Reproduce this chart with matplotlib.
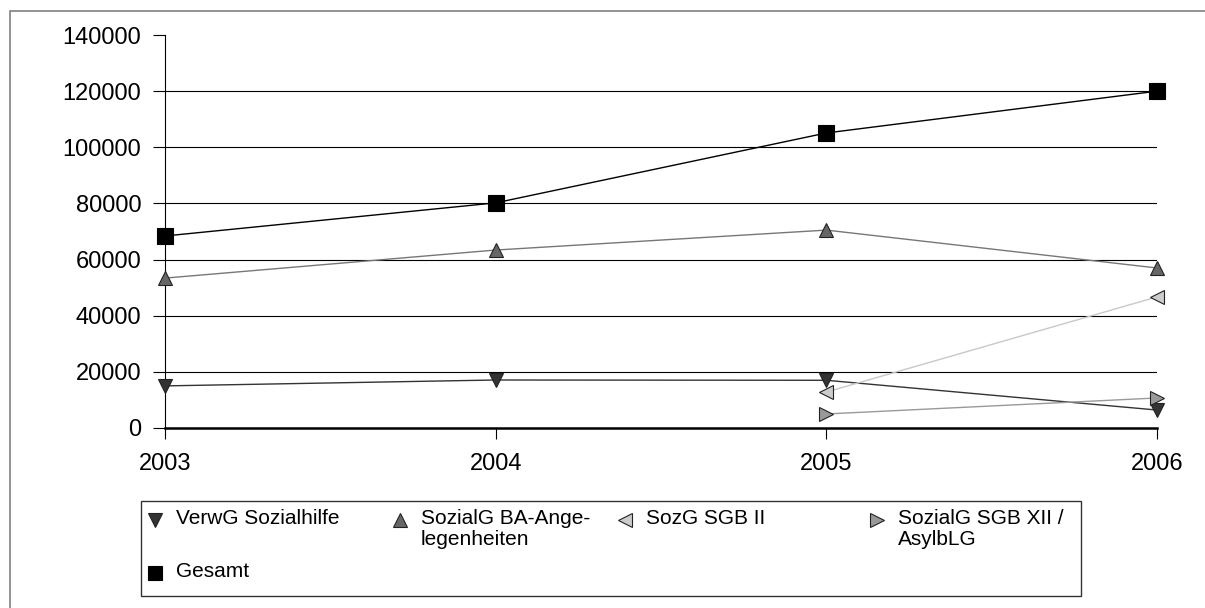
import numpy as np
import matplotlib.pyplot as plt
from matplotlib.patches import Rectangle
from matplotlib.lines import Line2D

plt.rcParams['font.family'] = ['Liberation Sans', 'DejaVu Sans']

jahre = [2003, 2004, 2005, 2006]
verwg = [15000, 17100, 17000, 6400]
ba = [53400, 63400, 70500, 57000]
sgb2_jahre = [2005, 2006]
sgb2 = [12800, 46700]
sgb12_jahre = [2005, 2006]
sgb12 = [5000, 10700]
gesamt = [68400, 80200, 105100, 120000]

W, H = 1205, 608
fig = plt.figure(figsize=(W / 100, H / 100), dpi=100)
ax = fig.add_axes([165 / W, 1 - 428 / H, 992 / W, 393 / H])


def fx(px):
    return px / W


def fy(py):
    return 1 - py / H


# Rahmen um die Grafik (rechts und unten angeschnitten)
fig.patches.append(Rectangle((fx(10), fy(620)), fx(1220) - fx(10), fy(11) - fy(620),
                             transform=fig.transFigure, fill=False,
                             edgecolor="#808080", lw=1.2))

# (Linienfarbe, Markerfarbe, Marker)
stil = {
    "verwg": ("#333333", "#333333", "v"),
    "ba": ("#777777", "#666666", "^"),
    "sgb2": ("#c8c8c8", "#cccccc", "<"),
    "sgb12": ("#999999", "#999999", ">"),
    "gesamt": ("black", "black", "s"),
}

ms = 10.5
for key, x, y in [("verwg", jahre, verwg), ("ba", jahre, ba),
                  ("sgb2", sgb2_jahre, sgb2), ("sgb12", sgb12_jahre, sgb12),
                  ("gesamt", jahre, gesamt)]:
    lc, mc, mk = stil[key]
    ec = "black" if key == "gesamt" else "#222222"
    ax.plot(x, y, color=lc, lw=1.0, marker=mk, ms=ms if key != "gesamt" else 11,
            mfc=mc, mec=ec, mew=0.8, zorder=5 if key == "gesamt" else 4,
            clip_on=False)

ax.set_xlim(2003, 2006)
ax.set_ylim(0, 140000)
ax.set_xticks(jahre)
ax.set_yticks(np.arange(0, 140001, 20000))
ax.tick_params(axis="both", labelsize=17, direction="out", width=0.8)
ax.tick_params(axis="x", length=8, pad=10)
ax.tick_params(axis="y", length=9, pad=8)
ax.grid(axis="y", color="black", lw=0.8)
ax.yaxis.get_gridlines()[-1].set_visible(False)
for s in ["top", "right"]:
    ax.spines[s].set_visible(False)
ax.spines["bottom"].set_linewidth(1.8)
ax.spines["left"].set_linewidth(0.8)
ax.set_axisbelow(True)

# Legende
fig.patches.append(Rectangle((fx(141), fy(596)), fx(1081) - fx(141), fy(501) - fy(596),
                             transform=fig.transFigure, fill=False,
                             edgecolor="#333333", lw=1.0))
eintraege = [
    ("verwg", "VerwG Sozialhilfe", 155, 520),
    ("ba", "SozialG BA-Ange-\nlegenheiten", 400, 520),
    ("sgb2", "SozG SGB II", 625, 520),
    ("sgb12", "SozialG SGB XII /\nAsylbLG", 877, 520),
    ("gesamt", "Gesamt", 155, 573),
]
for key, text, px, py in eintraege:
    lc, mc, mk = stil[key]
    fig.add_artist(Line2D([fx(px)], [fy(py)], transform=fig.transFigure,
                          marker=mk, ms=ms, mfc=mc,
                          mec="black" if key == "gesamt" else "#222222", mew=0.8,
                          linestyle="none"))
    fig.text(fx(px + 21), fy(py - 11), text, fontsize=15, va="top", ha="left",
             linespacing=1.15)

fig.savefig("out.png", dpi=100)
